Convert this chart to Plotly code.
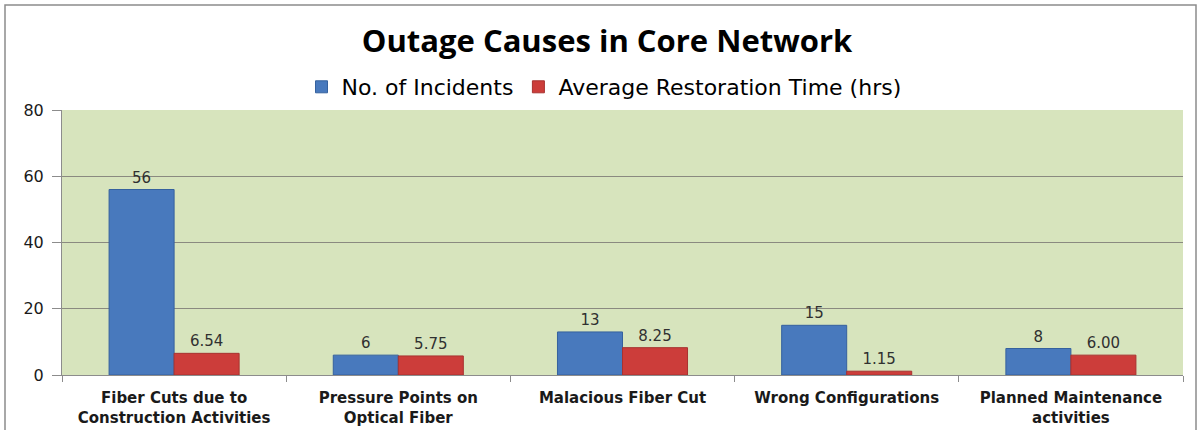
import plotly.graph_objects as go

categories = ["Fiber Cuts due to<br>Construction Activities",
              "Pressure Points on<br>Optical Fiber",
              "Malacious Fiber Cut",
              "Wrong Configurations",
              "Planned Maintenance<br>activities"]
incidents = [56, 6, 13, 15, 8]
restoration = [6.54, 5.75, 8.25, 1.15, 6.00]
y_ticks = [0, 20, 40, 60, 80]

W, H = 1200, 430
L, R, T, B = 62, 17, 110, 55
pw, ph = W - L - R, H - T - B

def px_x(x):
    return (x - L) / pw

def px_y(y):
    return (H - B - y) / ph

fig = go.Figure()
fig.add_trace(go.Bar(
    x=categories, y=incidents, name="No. of Incidents",
    marker=dict(color="#4879bd", line=dict(color="#35619e", width=1)),
    text=[f"{v:d}" for v in incidents], textposition="outside",
    textfont=dict(family="DejaVu Sans", size=15, color="#303030"),
    cliponaxis=False,
))
fig.add_trace(go.Bar(
    x=categories, y=restoration, name="Average Restoration Time (hrs)",
    marker=dict(color="#cc3d3a", line=dict(color="#a83230", width=1)),
    text=[f"{v:.2f}" for v in restoration], textposition="outside",
    textfont=dict(family="DejaVu Sans", size=15, color="#303030"),
    cliponaxis=False,
))

fig.update_layout(
    width=W, height=H,
    margin=dict(l=L, r=R, t=T, b=B, autoexpand=False),
    paper_bgcolor="white",
    plot_bgcolor="#d7e4bd",
    barmode="group",
    bargap=0.42, bargroupgap=0,
    title=dict(text="<b>Outage Causes in Core Network</b>",
               x=px_x(607), xref="paper", xanchor="center",
               y=1 - 41 / H, yref="container", yanchor="middle",
               font=dict(family="Open Sans", size=31, color="#000000")),
    legend=dict(orientation="h", x=px_x(604), xanchor="center",
                y=px_y(87), yanchor="middle",
                font=dict(family="DejaVu Sans", size=22, color="#000000"),
                bgcolor="rgba(0,0,0,0)",
                traceorder="normal", itemwidth=30),
    showlegend=True,
)
fig.update_xaxes(
    showgrid=False, showline=True, linecolor="#8c8c8c", linewidth=1,
    ticks="outside", tickson="boundaries", ticklen=6, tickcolor="#8c8c8c",
    tickfont=dict(family="DejaVu Sans", size=15, color="#1a1a1a"),
    tickprefix="<b>", ticksuffix="</b>", ticklabelstandoff=9,
    automargin=False,
)
fig.update_yaxes(
    range=[0, 80], tickvals=y_ticks, showgrid=True, gridcolor="#8a8a80",
    gridwidth=1, showline=True, linecolor="#8c8c8c",
    ticks="outside", ticklen=9, tickcolor="#8c8c8c",
    tickfont=dict(family="DejaVu Sans", size=16, color="#1a1a1a"),
    ticklabelstandoff=5, zeroline=False, automargin=False,
)
fig.add_shape(type="rect", xref="paper", yref="paper",
              x0=px_x(5), x1=px_x(1196), y0=px_y(437), y1=px_y(5),
              line=dict(color="#8c8c8c", width=1.5), fillcolor="rgba(0,0,0,0)",
              layer="below")

fig.write_html("out.html", config={"displayModeBar": False},
               post_script="document.body.style.margin='0';")
